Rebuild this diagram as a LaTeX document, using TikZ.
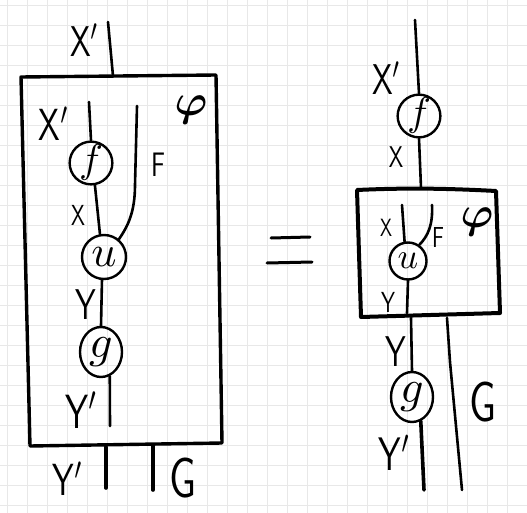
\documentclass[tikz,border=0pt]{standalone}
\usepackage{bm}
\usetikzlibrary{shapes.geometric}
\newcommand\hl[2]{\scalebox{\fpeval{0.72*#1/10}}[\fpeval{#1/10}]{\sffamily #2}}
\newcommand\ml[2]{\scalebox{\fpeval{#1/10}}{$#2$}}
\begin{document}
\begin{tikzpicture}[x=1pt,y=-1pt,
  wire/.style={line width=2.6pt,line cap=round,line join=round},
  thickwire/.style={line width=3.6pt,line cap=round,line join=round},
  boxline/.style={line width=3.4pt,line cap=round,line join=round},
  bead/.style={circle,draw,line width=2.4pt,inner sep=0pt,minimum size=42pt},
  oval/.style={ellipse,draw,line width=2.4pt,inner sep=0pt,minimum width=42pt,minimum height=50pt},
  lab/.style={inner sep=0pt},
  gridline/.style={draw=black!9,line width=0.8pt}]
\useasboundingbox (0,0) rectangle (527,513);
\fill[white] (0,0) rectangle (527,513);
\foreach \i in {0,...,26} \draw[gridline] (7+20*\i,0) -- (7+20*\i,513);
\foreach \j in {0,...,25} \draw[gridline] (0,5+20*\j) -- (527,5+20*\j);

% ---------------- left diagram ----------------
\coordinate (b1nw) at (21,77);
\coordinate (b1ne) at (216,75);
\coordinate (b1se) at (222,443);
\coordinate (b1sw) at (30,446);
\draw[boxline] (b1nw) -- (b1ne) -- (b1se) -- (b1sw) -- cycle;

\coordinate (xt1) at (108,22);
\coordinate (xb1) at (113,76);
\draw[wire] (xt1) -- (xb1);
\node[lab] (lxp1) at (85,40) {\hl{43}{X$'$}};
\node[lab] (lphi1) at (191,110) {\ml{44}{\bm{\varphi}}};

\node[bead] (f1) at (91,163) {\ml{40}{f}};
\node[bead,minimum size=44pt] (u1) at (104,257) {\ml{44}{u}};
\node[oval] (g1) at (101,352) {\ml{46}{g}};

\coordinate (xin1) at (89,102);
\draw[wire] (xin1) -- (f1.north);
\node[lab] (lxpi1) at (54,124) {\hl{45}{X$'$}};
\draw[wire] (f1.-80) -- (u1.100);
\node[lab] (lx1) at (78,215) {\hl{29}{X}};
\coordinate (ft1) at (137,106);
\coordinate (fm1) at (135,185);
\draw[wire] (ft1) -- (fm1) .. controls (135,212) and (128,226) .. (u1.50);
\node[lab] (lf1) at (158,165) {\hl{34}{F}};
\draw[wire] (u1.-95) -- (g1.north);
\node[lab] (ly1) at (86,305) {\hl{43}{Y}};
\coordinate (yb1) at (110,426);
\draw[wire] (g1.-70) -- (yb1);
\node[lab] (lypi1) at (82,410) {\hl{48}{Y$'$}};

\coordinate (o1a) at (106,447);
\coordinate (o1b) at (106,488);
\coordinate (o2a) at (153,445);
\coordinate (o2b) at (153,490);
\draw[thickwire] (o1a) -- (o1b);
\draw[thickwire] (o2a) -- (o2b);
\node[lab] (lyp1) at (68,479) {\hl{45}{Y$'$}};
\node[lab] (lg1) at (183,478) {\hl{56}{G}};

% ---------------- equals ----------------
\coordinate (e1a) at (271,238);
\coordinate (e1b) at (310,237);
\coordinate (e2a) at (267,263);
\coordinate (e2b) at (312,262);
\draw[wire,line width=3pt] (e1a) -- (e1b);
\draw[wire,line width=3pt] (e2a) -- (e2b);

% ---------------- right diagram ----------------
\coordinate (b2nw) at (357,190);
\coordinate (b2ne) at (496,191);
\coordinate (b2se) at (500,313);
\coordinate (b2sw) at (361,317);
\draw[boxline,line width=4pt] (b2nw) .. controls (400,188) and (440,188) .. (b2ne) -- (b2se) -- (b2sw) -- cycle;
\node[lab] (lphi2) at (477,222) {\ml{44}{\bm{\varphi}}};

\node[bead] (f2) at (419,116) {\ml{40}{f}};
\node[bead,minimum size=37pt] (u2) at (408,261) {\ml{36}{u}};
\node[oval] (g2) at (412,397) {\ml{46}{g}};

\coordinate (xt2) at (415,20);
\draw[wire] (xt2) -- (f2.north);
\node[lab] (lxp2) at (387,78) {\hl{43}{X$'$}};
\coordinate (xb2) at (421,188);
\draw[wire] (f2.south) -- (xb2);
\node[lab] (lx2) at (396,157) {\hl{30}{X}};

\coordinate (xin2) at (402,205);
\draw[wire] (xin2) -- (u2.100);
\node[lab] (lxi2) at (386,228) {\hl{25}{X}};
\coordinate (ft2) at (432,205);
\draw[wire] (ft2) .. controls (433,225) and (428,236) .. (u2.55);
\node[lab] (lf2) at (438,237) {\hl{29}{F}};
\coordinate (yi2) at (407,313);
\draw[wire] (u2.south) -- (yi2);
\node[lab] (lyi2) at (388,302) {\hl{29}{Y}};

\coordinate (yo2) at (411,318);
\draw[wire] (yo2) -- (g2.north);
\node[lab] (ly2) at (396,352) {\hl{43}{Y}};
\coordinate (yb2) at (424,490);
\draw[thickwire] (g2.-70) -- (yb2);
\node[lab] (lyp2) at (395,453) {\hl{47}{Y$'$}};

\coordinate (gt2) at (447,318);
\coordinate (gm2) at (450,362);
\coordinate (gb2) at (462,490);
\draw[wire] (gt2) -- (gm2) -- (gb2);
\node[lab] (lg2) at (483,402) {\hl{56}{G}};
\end{tikzpicture}
\end{document}
